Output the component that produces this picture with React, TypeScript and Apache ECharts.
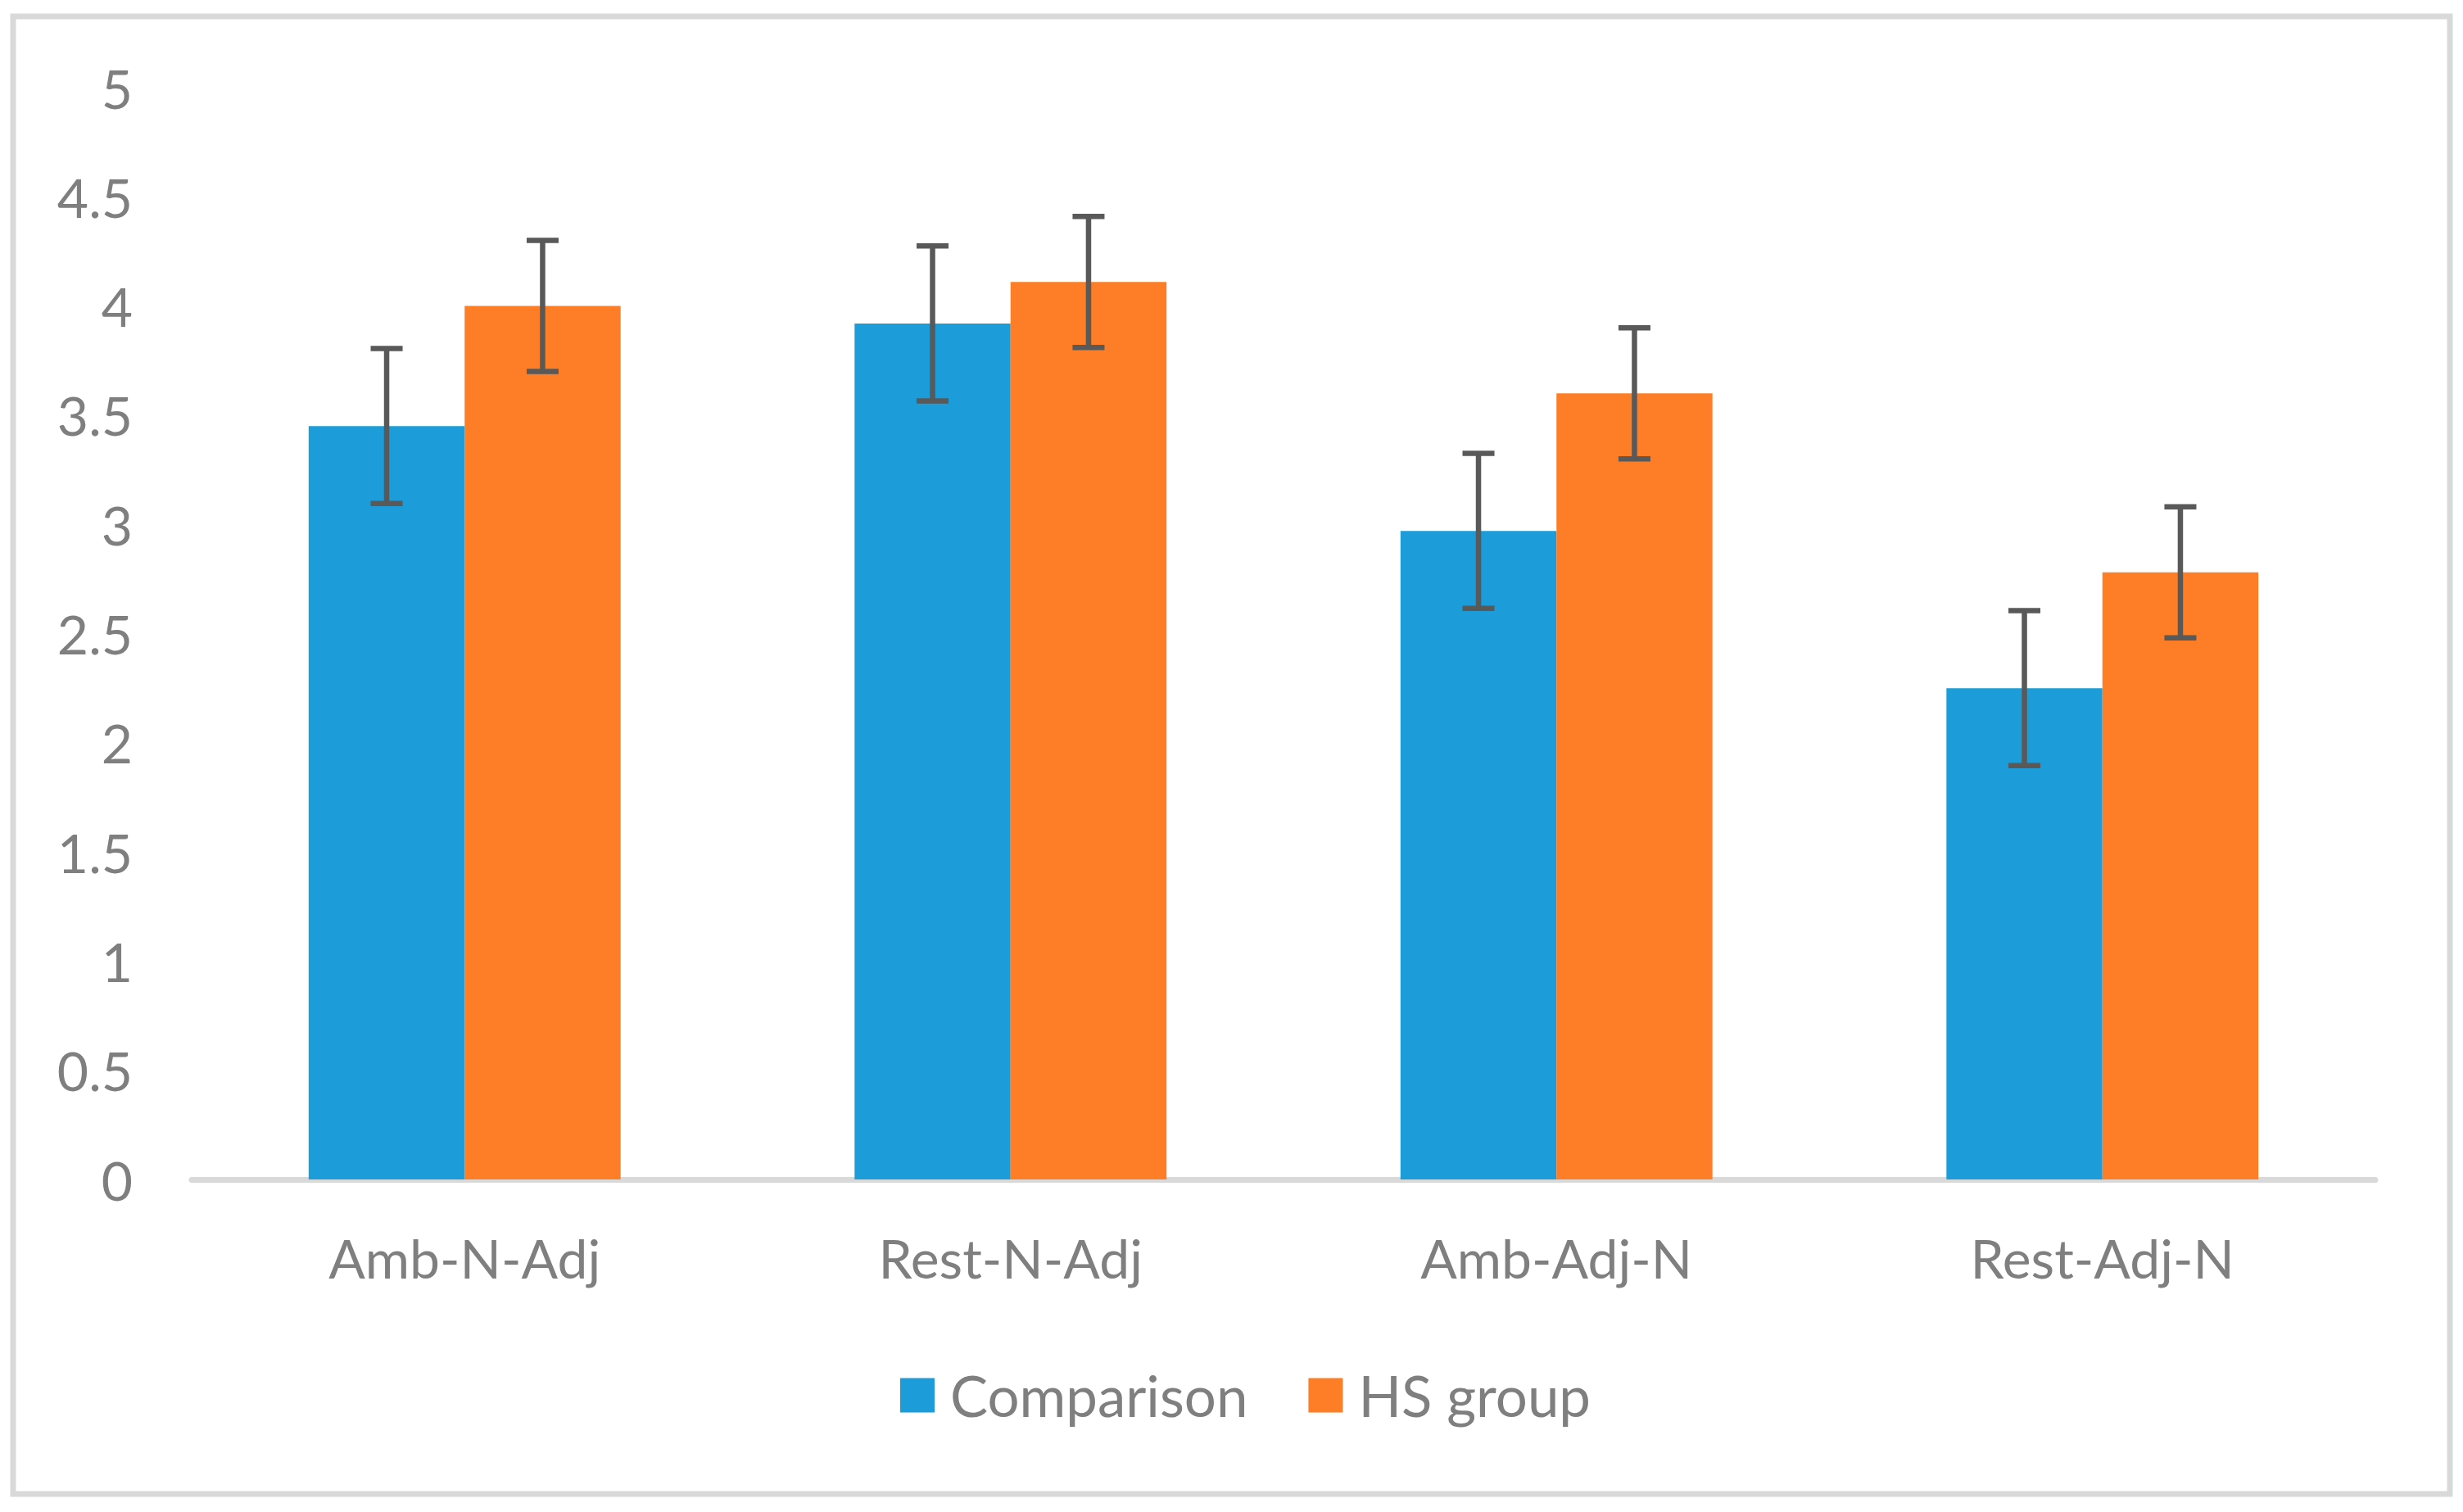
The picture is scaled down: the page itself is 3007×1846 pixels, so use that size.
import React, { useEffect, useRef } from "react";
import * as echarts from "echarts";

const categories = ["Amb-N-Adj", "Rest-N-Adj", "Amb-Adj-N", "Rest-Adj-N"];
const comparisonValues = [3.45, 3.92, 2.97, 2.25];
const hsGroupValues = [4.0, 4.11, 3.6, 2.78];
const comparisonErrors = [0.355, 0.355, 0.355, 0.355];
const hsGroupErrors = [0.3, 0.3, 0.3, 0.3];
const seriesNames = ["Comparison", "HS group"];

const BLUE = "#1C9CD8";
const ORANGE = "#FE7E27";
const TEXT = "#7f7f7f";
const FONT = "Lato";

function errorSeries(values: number[], errors: number[], side: number) {
  return {
    type: "custom",
    coordinateSystem: "cartesian2d",
    silent: true,
    z: 5,
    encode: { x: 0, y: [1, 2] },
    data: values.map((v, i) => [i, v - errors[i], v + errors[i]]),
    renderItem: (params: any, api: any) => {
      const idx = api.value(0);
      const low = api.coord([idx, api.value(1)]);
      const high = api.coord([idx, api.value(2)]);
      const band = api.size([1, 0])[0];
      const barW = band / 3.5;
      const x = low[0] + side * barW / 2;
      const capHalf = 19.5;
      const style = { stroke: "#595959", lineWidth: 6.5 };
      return {
        type: "group",
        children: [
          { type: "line", shape: { x1: x, y1: high[1], x2: x, y2: low[1] }, style },
          { type: "line", shape: { x1: x - capHalf, y1: high[1], x2: x + capHalf, y2: high[1] }, style },
          { type: "line", shape: { x1: x - capHalf, y1: low[1], x2: x + capHalf, y2: low[1] }, style },
        ],
      };
    },
  };
}

export default function App() {
  const ref = useRef<HTMLDivElement>(null);
  useEffect(() => {
    if (!ref.current) return;
    const chart = echarts.init(ref.current, null, { renderer: "svg" });
    chart.setOption({
      animation: false,
      backgroundColor: "#ffffff",
      textStyle: { fontFamily: FONT },
      graphic: [
        {
          type: "rect",
          shape: { x: 16, y: 20, width: 2975, height: 1804 },
          style: { fill: "none", stroke: "#d9d9d9", lineWidth: 7 },
          z: -10,
          silent: true,
        },
      ],
      grid: { left: 234, right: 107, top: 107, bottom: 406, containLabel: false },
      legend: {
        data: seriesNames,
        left: 1094,
        top: 1664,
        icon: "rect",
        itemWidth: 42,
        itemHeight: 42,
        itemGap: 74,
        selectedMode: false,
        textStyle: { fontSize: 69, color: TEXT, fontFamily: FONT, padding: [0, 0, 0, 14] },
      },
      xAxis: {
        type: "category",
        data: categories,
        axisTick: { show: false },
        axisLine: { show: true, lineStyle: { color: "#d9d9d9", width: 7 } },
        axisLabel: { fontSize: 66, color: TEXT, fontFamily: FONT, margin: 62 },
        splitLine: { show: false },
      },
      yAxis: {
        type: "value",
        min: 0,
        max: 5,
        interval: 0.5,
        axisLine: { show: false },
        axisTick: { show: false },
        splitLine: { show: false },
        axisLabel: { fontSize: 66, color: TEXT, fontFamily: FONT, margin: 72 },
      },
      series: [
        {
          name: seriesNames[0],
          type: "bar",
          data: comparisonValues,
          itemStyle: { color: BLUE },
          barGap: "0%",
          barCategoryGap: "42.857%",
        },
        {
          name: seriesNames[1],
          type: "bar",
          data: hsGroupValues,
          itemStyle: { color: ORANGE },
          barGap: "0%",
          barCategoryGap: "42.857%",
        },
        errorSeries(comparisonValues, comparisonErrors, -1),
        errorSeries(hsGroupValues, hsGroupErrors, 1),
      ],
    });
    return () => chart.dispose();
  }, []);
  return (
    <div
      ref={ref}
      style={{ position: "fixed", left: 0, top: 0, width: "3007px", height: "1846px", background: "#fff" }}
    />
  );
}
